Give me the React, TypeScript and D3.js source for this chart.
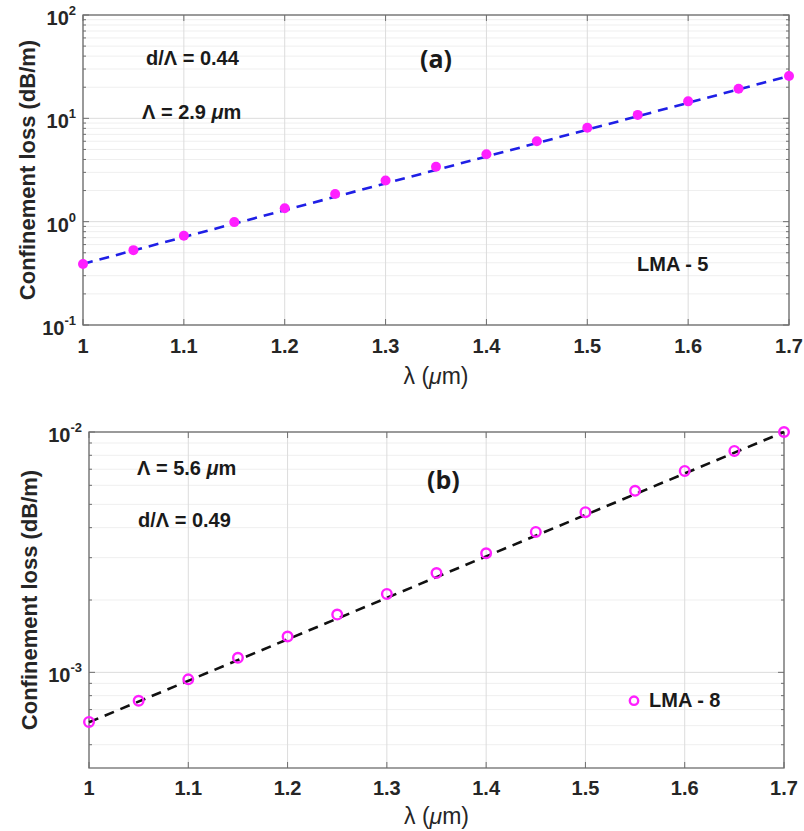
import React from "react";
import * as d3 from "d3";

// wavelength samples (um)
const lambda = [1.0, 1.05, 1.1, 1.15, 1.2, 1.25, 1.3, 1.35, 1.4, 1.45, 1.5, 1.55, 1.6, 1.65, 1.7];
const xTicks = [1, 1.1, 1.2, 1.3, 1.4, 1.5, 1.6, 1.7];

// (a) LMA-5 confinement loss (dB/m)
const lossA = [0.39, 0.53, 0.73, 0.99, 1.35, 1.85, 2.5, 3.4, 4.5, 6.0, 8.1, 10.8, 14.6, 19.3, 25.7];
const fitA = [0.39, 25.7];
const yTicksA = [-1, 0, 1, 2];

// (b) LMA-8 confinement loss (dB/m)
const lossB = [6.22e-4, 7.62e-4, 9.35e-4, 1.15e-3, 1.41e-3, 1.74e-3, 2.12e-3, 2.59e-3, 3.13e-3, 3.84e-3, 4.64e-3, 5.69e-3, 6.89e-3, 8.34e-3, 1.0e-2];
const fitB = [6.2e-4, 1.0e-2];
const yTicksB = [-3, -2];

const FONT = "'Liberation Sans', Arial, sans-serif";

type Note = { text: React.ReactNode; x: number; y: number; size?: number; family?: string };

type PanelProps = {
  left: number; right: number; top: number; bottom: number;
  yDomain: [number, number];
  yTicks: number[];
  values: number[];
  fit: number[];
  lineColor: string;
  filled: boolean;
  notes: Note[];
  tickLabelY: number;
  xLabelY: number;
  yLabelX: number;
};

function Panel(p: PanelProps) {
  const x = d3.scaleLinear().domain([1, 1.7]).range([p.left, p.right]);
  const y = d3.scaleLog().domain(p.yDomain).range([p.bottom, p.top]);

  const minor: number[] = [];
  const d0 = Math.floor(Math.log10(p.yDomain[0]));
  const d1 = Math.ceil(Math.log10(p.yDomain[1]));
  for (let d = d0; d < d1; d++) {
    for (let k = 2; k <= 9; k++) {
      const v = k * Math.pow(10, d);
      if (v > p.yDomain[0] * 1.0001 && v < p.yDomain[1] * 0.9999) minor.push(v);
    }
  }
  const major = p.yTicks.map((e) => Math.pow(10, e));

  const line = d3.line<number>()
    .x((_, i) => x(i === 0 ? 1 : 1.7))
    .y((d) => y(d));

  const axisColor = "#6e6e6e";

  return (
    <g>
      {/* grid */}
      {minor.map((v, i) => (
        <line key={"mg" + i} x1={p.left} x2={p.right} y1={y(v)} y2={y(v)} stroke="#efefef" strokeWidth={1} />
      ))}
      {major.map((v, i) => (
        <line key={"Mg" + i} x1={p.left} x2={p.right} y1={y(v)} y2={y(v)} stroke="#dcdcdc" strokeWidth={1} />
      ))}
      {xTicks.map((t) => (
        <line key={"xg" + t} x1={x(t)} x2={x(t)} y1={p.top} y2={p.bottom} stroke="#dcdcdc" strokeWidth={1} />
      ))}

      {/* ticks */}
      {xTicks.map((t) => (
        <g key={"xt" + t}>
          <line x1={x(t)} x2={x(t)} y1={p.bottom} y2={p.bottom - 6} stroke={axisColor} strokeWidth={1} />
          <line x1={x(t)} x2={x(t)} y1={p.top} y2={p.top + 6} stroke={axisColor} strokeWidth={1} />
          <text x={x(t)} y={p.tickLabelY} textAnchor="middle" fontFamily={FONT} fontWeight="bold" fontSize={20} fill="#262626">
            {t}
          </text>
        </g>
      ))}
      {minor.map((v, i) => (
        <g key={"myt" + i}>
          <line x1={p.left} x2={p.left + 3} y1={y(v)} y2={y(v)} stroke={axisColor} strokeWidth={1} />
          <line x1={p.right} x2={p.right - 3} y1={y(v)} y2={y(v)} stroke={axisColor} strokeWidth={1} />
        </g>
      ))}
      {p.yTicks.map((e) => (
        <g key={"yt" + e}>
          <line x1={p.left} x2={p.left + 6} y1={y(Math.pow(10, e))} y2={y(Math.pow(10, e))} stroke={axisColor} strokeWidth={1} />
          <line x1={p.right} x2={p.right - 6} y1={y(Math.pow(10, e))} y2={y(Math.pow(10, e))} stroke={axisColor} strokeWidth={1} />
          <text x={p.left - 7} y={y(Math.pow(10, e)) + 10} textAnchor="end" fontFamily={FONT} fontWeight="bold" fontSize={20} fill="#262626">
            10<tspan dy={-10} fontSize={13}>{e}</tspan>
          </text>
        </g>
      ))}

      {/* box */}
      <rect x={p.left} y={p.top} width={p.right - p.left} height={p.bottom - p.top} fill="none" stroke={axisColor} strokeWidth={1.3} />

      {/* fit line */}
      <path d={line(p.fit) || ""} fill="none" stroke={p.lineColor} strokeWidth={2.6} strokeDasharray="10,7" />

      {/* markers */}
      {p.values.map((v, i) => (
        p.filled
          ? <circle key={"pt" + i} cx={x(lambda[i])} cy={y(v)} r={5} fill="#ff1fff" />
          : <circle key={"pt" + i} cx={x(lambda[i])} cy={y(v)} r={4.8} fill="none" stroke="#ff1fff" strokeWidth={2.4} />
      ))}

      {/* notes */}
      {p.notes.map((n, i) => (
        <text key={"n" + i} x={n.x} y={n.y} fontFamily={n.family || FONT} fontWeight="bold" fontSize={n.size || 20} fill="#1a1a1a">
          {n.text}
        </text>
      ))}

      {/* axis labels */}
      <text x={(p.left + p.right) / 2} y={p.xLabelY} textAnchor="middle" fontFamily={FONT} fontSize={23} fill="#262626">
        λ (<tspan fontStyle="italic">μ</tspan>m)
      </text>
      <text transform={`translate(${p.yLabelX},${(p.top + p.bottom) / 2}) rotate(-90)`} textAnchor="middle" fontFamily={FONT} fontWeight="bold" fontSize={22} fill="#262626">
        Confinement loss (dB/m)
      </text>
    </g>
  );
}

export default function App() {
  return (
    <svg width={804} height={831} style={{ position: "absolute", left: 0, top: 0, background: "#fff" }}>
      <rect width={804} height={831} fill="#fff" />
      <Panel
        left={83} right={789} top={15} bottom={325}
        yDomain={[0.1, 100]} yTicks={yTicksA}
        values={lossA} fit={fitA} lineColor="#1f1fe6" filled={true}
        tickLabelY={353} xLabelY={384} yLabelX={35}
        notes={[
          { text: "d/Λ = 0.44", x: 146, y: 65 },
          { text: <>Λ = 2.9 <tspan fontStyle="italic">μ</tspan>m</>, x: 142, y: 119 },
          { text: "(a)", x: 420, y: 68, size: 25, family: "'Open Sans', sans-serif" },
          { text: "LMA - 5", x: 637, y: 271 },
        ]}
      />
      <Panel
        left={89} right={784} top={432} bottom={768}
        yDomain={[4e-4, 1e-2]} yTicks={yTicksB}
        values={lossB} fit={fitB} lineColor="#111" filled={false}
        tickLabelY={795} xLabelY={824} yLabelX={37}
        notes={[
          { text: <>Λ = 5.6 <tspan fontStyle="italic">μ</tspan>m</>, x: 137, y: 475 },
          { text: "d/Λ = 0.49", x: 138, y: 527 },
          { text: "(b)", x: 427, y: 489, size: 25, family: "'Open Sans', sans-serif" },
          { text: "LMA - 8", x: 649, y: 707 },
        ]}
      />
      {/* legend marker (b) */}
      <circle cx={634} cy={700.7} r={4.2} fill="none" stroke="#ff1fff" strokeWidth={2.4} />
    </svg>
  );
}
